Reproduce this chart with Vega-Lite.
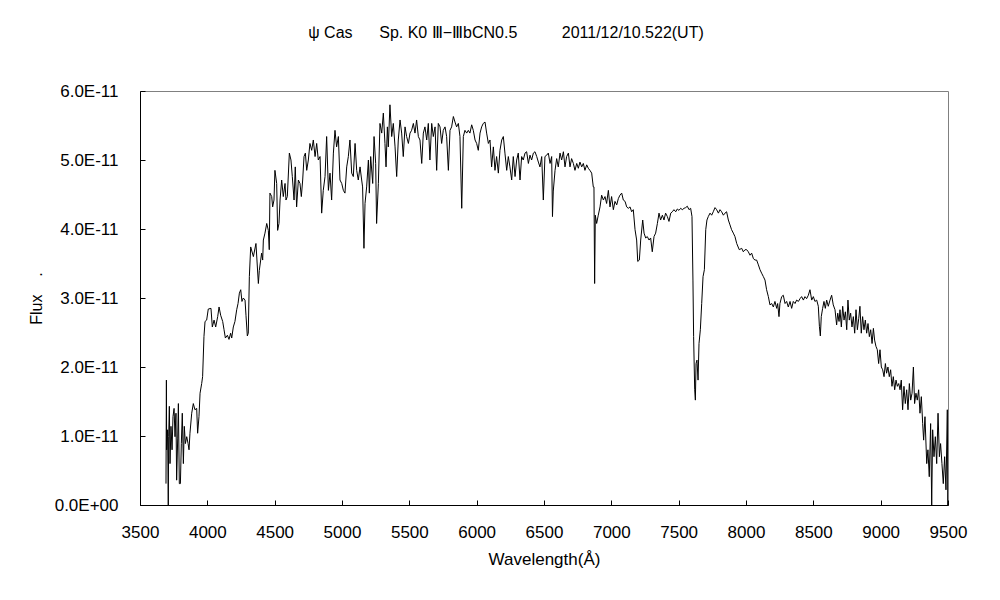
{
"$schema": "https://vega.github.io/schema/vega-lite/v6.json",
"width": 808, "height": 414,
"autosize": {"type": "none"},
"padding": {"left": 140, "top": 91, "right": 52, "bottom": 95},
"background": "white",
"title": {"text": "ψ Cas\u00a0\u00a0\u00a0\u00a0\u00a0\u00a0Sp. K0\u00a0Ⅲ−ⅢbCN0.5\u00a0\u00a0\u00a0\u00a0\u00a0\u00a0\u00a0\u00a0\u00a0\u00a02011/12/10.522(UT)", "fontSize": 16, "font": "Liberation Sans", "fontWeight": "normal", "color": "black", "anchor": "middle", "dx": -38, "offset": 41},
"data": {"values": [
{"wavelength":3693,"flux":0.31},{"wavelength":3696,"flux":1.81},{"wavelength":3698,"flux":0.80},{"wavelength":3705,"flux":1.09},{"wavelength":3710,"flux":0.0},{"wavelength":3713,"flux":0.99},{"wavelength":3718,"flux":1.43},{"wavelength":3723,"flux":0.60},{"wavelength":3730,"flux":1.14},{"wavelength":3738,"flux":0.80},{"wavelength":3745,"flux":1.28},{"wavelength":3753,"flux":1.40},{"wavelength":3760,"flux":0.99},{"wavelength":3767,"flux":1.33},{"wavelength":3772,"flux":0.36},{"wavelength":3780,"flux":0.97},{"wavelength":3785,"flux":1.47},{"wavelength":3792,"flux":0.31},{"wavelength":3800,"flux":0.31},{"wavelength":3807,"flux":0.89},{"wavelength":3814,"flux":1.33},{"wavelength":3822,"flux":0.60},{"wavelength":3829,"flux":1.14},{"wavelength":3837,"flux":0.89},{"wavelength":3847,"flux":0.99},{"wavelength":3857,"flux":0.89},{"wavelength":3864,"flux":0.80},{"wavelength":3871,"flux":1.04},{"wavelength":3884,"flux":1.33},{"wavelength":3896,"flux":1.47},{"wavelength":3908,"flux":1.38},{"wavelength":3921,"flux":1.40},{"wavelength":3928,"flux":1.04},{"wavelength":3938,"flux":1.28},{"wavelength":3946,"flux":1.62},{"wavelength":3958,"flux":1.76},{"wavelength":3965,"flux":1.86},{"wavelength":3975,"flux":2.44},{"wavelength":3983,"flux":2.66},{"wavelength":3995,"flux":2.68},{"wavelength":4007,"flux":2.84},{"wavelength":4027,"flux":2.85},{"wavelength":4037,"flux":2.58},{"wavelength":4050,"flux":2.68},{"wavelength":4062,"flux":2.58},{"wavelength":4077,"flux":2.73},{"wavelength":4087,"flux":2.87},{"wavelength":4099,"flux":2.75},{"wavelength":4114,"flux":2.66},{"wavelength":4124,"flux":2.54},{"wavelength":4134,"flux":2.42},{"wavelength":4149,"flux":2.46},{"wavelength":4161,"flux":2.40},{"wavelength":4173,"flux":2.49},{"wavelength":4181,"flux":2.42},{"wavelength":4193,"flux":2.58},{"wavelength":4205,"flux":2.66},{"wavelength":4218,"flux":2.83},{"wavelength":4228,"flux":2.92},{"wavelength":4238,"flux":3.07},{"wavelength":4248,"flux":3.12},{"wavelength":4257,"flux":2.95},{"wavelength":4267,"flux":3.00},{"wavelength":4280,"flux":2.97},{"wavelength":4287,"flux":2.75},{"wavelength":4297,"flux":2.45},{"wavelength":4304,"flux":2.49},{"wavelength":4312,"flux":3.31},
{"wavelength":4322,"flux":3.74},{"wavelength":4342,"flux":3.60},{"wavelength":4361,"flux":3.79},{"wavelength":4379,"flux":3.21},{"wavelength":4386,"flux":3.40},{"wavelength":4403,"flux":3.65},{"wavelength":4411,"flux":3.55},{"wavelength":4416,"flux":3.84},{"wavelength":4428,"flux":3.94},{"wavelength":4441,"flux":4.08},{"wavelength":4453,"flux":3.98},{"wavelength":4460,"flux":3.70},{"wavelength":4465,"flux":4.52},{"wavelength":4478,"flux":4.47},{"wavelength":4485,"flux":4.32},{"wavelength":4495,"flux":4.42},{"wavelength":4502,"flux":4.85},{"wavelength":4515,"flux":4.66},{"wavelength":4522,"flux":3.98},{"wavelength":4532,"flux":4.08},{"wavelength":4540,"flux":4.42},{"wavelength":4552,"flux":4.71},{"wavelength":4564,"flux":4.47},{"wavelength":4577,"flux":4.66},{"wavelength":4584,"flux":4.42},{"wavelength":4594,"flux":4.47},{"wavelength":4609,"flux":5.10},{"wavelength":4621,"flux":5.00},{"wavelength":4631,"flux":4.76},{"wavelength":4644,"flux":4.42},{"wavelength":4653,"flux":4.90},{"wavelength":4663,"flux":4.32},{"wavelength":4676,"flux":4.71},{"wavelength":4688,"flux":4.66},{"wavelength":4698,"flux":4.47},{"wavelength":4708,"flux":4.71},{"wavelength":4718,"flux":5.05},{"wavelength":4728,"flux":5.10},{"wavelength":4738,"flux":4.85},{"wavelength":4750,"flux":5.00},{"wavelength":4762,"flux":5.24},{"wavelength":4775,"flux":5.14},{"wavelength":4787,"flux":5.29},{"wavelength":4800,"flux":5.05},{"wavelength":4812,"flux":5.24},{"wavelength":4824,"flux":5.00},{"wavelength":4837,"flux":5.05},{"wavelength":4849,"flux":4.23},{"wavelength":4861,"flux":4.56},{"wavelength":4874,"flux":4.76},{"wavelength":4886,"flux":5.34},{"wavelength":4899,"flux":4.56},{"wavelength":4911,"flux":4.81},{"wavelength":4923,"flux":4.42},{"wavelength":4936,"flux":5.10},{"wavelength":4948,"flux":5.43},{"wavelength":4960,"flux":5.19},{"wavelength":4973,"flux":5.34},{"wavelength":4985,"flux":4.71},{"wavelength":4998,"flux":4.66},{"wavelength":5010,"flux":4.56},{"wavelength":5022,"flux":4.52},{"wavelength":5035,"flux":4.90},{"wavelength":5047,"flux":5.05},{"wavelength":5059,"flux":5.29},{"wavelength":5072,"flux":4.81},{"wavelength":5084,"flux":4.76},{"wavelength":5097,"flux":5.24},{"wavelength":5109,"flux":4.85},{"wavelength":5121,"flux":4.71},{"wavelength":5134,"flux":4.90},{"wavelength":5146,"flux":4.71},{"wavelength":5153,"flux":4.61},{"wavelength":5163,"flux":3.72},{"wavelength":5171,"flux":4.37},{"wavelength":5183,"flux":4.61},{"wavelength":5196,"flux":5.00},{"wavelength":5203,"flux":4.52},{"wavelength":5213,"flux":5.05},{"wavelength":5228,"flux":4.66},{"wavelength":5238,"flux":5.34},{"wavelength":5250,"flux":4.95},{"wavelength":5257,"flux":4.08},{"wavelength":5270,"flux":4.66},{"wavelength":5282,"flux":5.53},{"wavelength":5295,"flux":5.39},{"wavelength":5307,"flux":5.68},{"wavelength":5319,"flux":5.24},{"wavelength":5327,"flux":4.90},{"wavelength":5337,"flux":5.48},{"wavelength":5344,"flux":5.19},{"wavelength":5356,"flux":5.80},{"wavelength":5369,"flux":5.34},{"wavelength":5381,"flux":5.53},{"wavelength":5394,"flux":5.19},{"wavelength":5406,"flux":4.76},{"wavelength":5418,"flux":5.29},{"wavelength":5431,"flux":5.58},{"wavelength":5443,"flux":5.39},{"wavelength":5455,"flux":5.05},{"wavelength":5468,"flux":5.48},{"wavelength":5480,"flux":5.34},{"wavelength":5493,"flux":5.24},{"wavelength":5505,"flux":5.39},{"wavelength":5517,"flux":5.43},{"wavelength":5530,"flux":5.53},{"wavelength":5542,"flux":5.39},{"wavelength":5554,"flux":5.58},{"wavelength":5567,"flux":5.34},{"wavelength":5579,"flux":5.29},{"wavelength":5592,"flux":4.95},{"wavelength":5604,"flux":5.39},{"wavelength":5616,"flux":5.48},{"wavelength":5629,"flux":5.29},{"wavelength":5641,"flux":5.53},{"wavelength":5653,"flux":5.00},{"wavelength":5666,"flux":5.53},{"wavelength":5678,"flux":5.34},{"wavelength":5691,"flux":5.48},{"wavelength":5703,"flux":4.85},{"wavelength":5715,"flux":5.53},{"wavelength":5728,"flux":5.48},{"wavelength":5740,"flux":5.24},{"wavelength":5752,"flux":5.43},{"wavelength":5765,"flux":5.48},{"wavelength":5777,"flux":5.34},{"wavelength":5790,"flux":4.85},{"wavelength":5802,"flux":5.43},{"wavelength":5814,"flux":5.48},{"wavelength":5827,"flux":5.63},{"wavelength":5839,"flux":5.55},{"wavelength":5851,"flux":5.48},{"wavelength":5864,"flux":5.53},{"wavelength":5876,"flux":5.34},{"wavelength":5889,"flux":4.30},{"wavelength":5901,"flux":5.34},{"wavelength":5913,"flux":5.43},{"wavelength":5926,"flux":5.39},{"wavelength":5938,"flux":5.43},{"wavelength":5950,"flux":5.39},
{"wavelength":5963,"flux":5.51},{"wavelength":5975,"flux":5.43},{"wavelength":5988,"flux":5.29},{"wavelength":6000,"flux":5.24},{"wavelength":6012,"flux":5.14},{"wavelength":6025,"flux":5.39},{"wavelength":6037,"flux":5.48},{"wavelength":6049,"flux":5.53},{"wavelength":6062,"flux":5.55},{"wavelength":6074,"flux":5.39},{"wavelength":6087,"flux":5.24},{"wavelength":6099,"flux":5.29},{"wavelength":6111,"flux":4.90},{"wavelength":6124,"flux":5.19},{"wavelength":6136,"flux":4.85},{"wavelength":6148,"flux":5.05},{"wavelength":6161,"flux":4.81},{"wavelength":6173,"flux":5.14},{"wavelength":6186,"flux":5.29},{"wavelength":6198,"flux":5.34},{"wavelength":6210,"flux":5.10},{"wavelength":6223,"flux":4.85},{"wavelength":6235,"flux":5.05},{"wavelength":6247,"flux":4.90},{"wavelength":6260,"flux":4.71},{"wavelength":6272,"flux":5.05},{"wavelength":6285,"flux":4.76},{"wavelength":6297,"flux":5.00},{"wavelength":6309,"flux":5.10},{"wavelength":6322,"flux":4.71},{"wavelength":6334,"flux":5.05},{"wavelength":6346,"flux":5.00},{"wavelength":6359,"flux":5.10},{"wavelength":6371,"flux":5.12},{"wavelength":6384,"flux":4.95},{"wavelength":6396,"flux":5.07},{"wavelength":6408,"flux":5.00},{"wavelength":6421,"flux":5.10},{"wavelength":6433,"flux":5.12},{"wavelength":6446,"flux":5.05},{"wavelength":6458,"flux":4.97},{"wavelength":6470,"flux":4.90},{"wavelength":6483,"flux":5.05},{"wavelength":6495,"flux":4.42},{"wavelength":6507,"flux":5.05},{"wavelength":6520,"flux":5.07},{"wavelength":6532,"flux":5.10},{"wavelength":6545,"flux":4.95},{"wavelength":6557,"flux":5.05},{"wavelength":6563,"flux":4.18},{"wavelength":6569,"flux":4.55},{"wavelength":6582,"flux":4.85},{"wavelength":6594,"flux":5.02},{"wavelength":6606,"flux":4.90},{"wavelength":6619,"flux":5.10},{"wavelength":6631,"flux":5.00},{"wavelength":6644,"flux":5.12},{"wavelength":6656,"flux":4.90},{"wavelength":6668,"flux":5.05},{"wavelength":6681,"flux":5.10},{"wavelength":6693,"flux":4.90},{"wavelength":6705,"flux":5.02},{"wavelength":6718,"flux":4.95},{"wavelength":6730,"flux":4.85},{"wavelength":6743,"flux":4.95},{"wavelength":6755,"flux":4.88},{"wavelength":6767,"flux":4.97},{"wavelength":6780,"flux":4.90},{"wavelength":6792,"flux":4.95},{"wavelength":6804,"flux":4.85},{"wavelength":6817,"flux":4.93},{"wavelength":6829,"flux":4.88},{"wavelength":6841,"flux":4.85},{"wavelength":6854,"flux":4.81},{"wavelength":6866,"flux":4.61},
{"wavelength":6871,"flux":4.61},{"wavelength":6876,"flux":3.21},{"wavelength":6881,"flux":4.20},{"wavelength":6891,"flux":4.08},{"wavelength":6903,"flux":4.20},{"wavelength":6916,"flux":4.32},{"wavelength":6928,"flux":4.49},{"wavelength":6941,"flux":4.42},{"wavelength":6953,"flux":4.47},{"wavelength":6965,"flux":4.37},{"wavelength":6978,"flux":4.56},{"wavelength":6990,"flux":4.32},{"wavelength":7002,"flux":4.47},{"wavelength":7015,"flux":4.28},{"wavelength":7027,"flux":4.40},{"wavelength":7040,"flux":4.35},{"wavelength":7052,"flux":4.44},{"wavelength":7064,"flux":4.49},{"wavelength":7077,"flux":4.52},{"wavelength":7089,"flux":4.42},{"wavelength":7102,"flux":4.40},{"wavelength":7114,"flux":4.32},{"wavelength":7126,"flux":4.30},{"wavelength":7139,"flux":4.32},{"wavelength":7151,"flux":4.25},{"wavelength":7163,"flux":4.28},{"wavelength":7176,"flux":3.99},{"wavelength":7188,"flux":3.84},{"wavelength":7196,"flux":3.53},{"wavelength":7208,"flux":3.55},{"wavelength":7218,"flux":3.84},{"wavelength":7233,"flux":4.13},{"wavelength":7243,"flux":3.94},{"wavelength":7255,"flux":3.87},{"wavelength":7267,"flux":3.89},{"wavelength":7280,"flux":3.84},{"wavelength":7292,"flux":3.87},{"wavelength":7304,"flux":3.67},{"wavelength":7317,"flux":3.89},{"wavelength":7329,"flux":3.94},{"wavelength":7342,"flux":4.08},{"wavelength":7354,"flux":4.23},{"wavelength":7366,"flux":4.13},{"wavelength":7379,"flux":4.20},{"wavelength":7391,"flux":4.13},{"wavelength":7403,"flux":4.23},{"wavelength":7416,"flux":4.18},{"wavelength":7428,"flux":4.11},{"wavelength":7441,"flux":4.23},{"wavelength":7453,"flux":4.25},{"wavelength":7465,"flux":4.28},{"wavelength":7478,"flux":4.25},{"wavelength":7490,"flux":4.29},{"wavelength":7502,"flux":4.27},{"wavelength":7515,"flux":4.30},{"wavelength":7527,"flux":4.28},{"wavelength":7540,"flux":4.30},{"wavelength":7552,"flux":4.31},{"wavelength":7564,"flux":4.33},{"wavelength":7577,"flux":4.28},{"wavelength":7589,"flux":4.30},{"wavelength":7599,"flux":4.18},{"wavelength":7606,"flux":3.26},{"wavelength":7611,"flux":2.44},{"wavelength":7619,"flux":1.67},{"wavelength":7624,"flux":1.52},{"wavelength":7629,"flux":2.05},{"wavelength":7636,"flux":2.10},{"wavelength":7644,"flux":1.81},{"wavelength":7651,"flux":2.34},{"wavelength":7661,"flux":2.54},{"wavelength":7671,"flux":2.92},{"wavelength":7681,"flux":3.31},{"wavelength":7691,"flux":3.41},{"wavelength":7701,"flux":3.99},{"wavelength":7710,"flux":4.13},{"wavelength":7720,"flux":4.18},{"wavelength":7733,"flux":4.23},{"wavelength":7745,"flux":4.20},{"wavelength":7757,"flux":4.25},{"wavelength":7770,"flux":4.31},{"wavelength":7782,"flux":4.28},{"wavelength":7795,"flux":4.23},{"wavelength":7807,"flux":4.28},{"wavelength":7819,"flux":4.25},{"wavelength":7832,"flux":4.20},{"wavelength":7844,"flux":4.23},{"wavelength":7856,"flux":4.25},{"wavelength":7869,"flux":4.13},{"wavelength":7881,"flux":4.06},{"wavelength":7893,"flux":3.99},{"wavelength":7906,"flux":3.94},{"wavelength":7918,"flux":3.89},{"wavelength":7931,"flux":3.79},{"wavelength":7950,"flux":3.70},
{"wavelength":7968,"flux":3.72},{"wavelength":7980,"flux":3.67},{"wavelength":7993,"flux":3.70},{"wavelength":8005,"flux":3.70},{"wavelength":8017,"flux":3.67},{"wavelength":8030,"flux":3.62},{"wavelength":8042,"flux":3.65},{"wavelength":8055,"flux":3.57},{"wavelength":8067,"flux":3.55},{"wavelength":8079,"flux":3.55},{"wavelength":8092,"flux":3.48},{"wavelength":8104,"flux":3.41},{"wavelength":8116,"flux":3.36},{"wavelength":8129,"flux":3.31},{"wavelength":8141,"flux":3.26},{"wavelength":8153,"flux":3.12},{"wavelength":8166,"flux":3.02},{"wavelength":8178,"flux":2.90},{"wavelength":8191,"flux":2.92},{"wavelength":8203,"flux":2.87},{"wavelength":8215,"flux":2.95},{"wavelength":8228,"flux":2.85},{"wavelength":8235,"flux":2.92},{"wavelength":8245,"flux":2.73},{"wavelength":8252,"flux":2.92},{"wavelength":8265,"flux":3.02},{"wavelength":8277,"flux":3.04},{"wavelength":8290,"flux":2.92},{"wavelength":8302,"flux":2.95},{"wavelength":8314,"flux":2.87},{"wavelength":8327,"flux":2.95},{"wavelength":8339,"flux":2.85},{"wavelength":8351,"flux":2.95},{"wavelength":8364,"flux":2.92},{"wavelength":8376,"flux":2.97},
{"wavelength":8389,"flux":2.95},{"wavelength":8401,"flux":2.99},{"wavelength":8413,"flux":3.02},{"wavelength":8426,"flux":2.97},{"wavelength":8438,"flux":3.02},{"wavelength":8450,"flux":2.99},{"wavelength":8463,"flux":3.04},{"wavelength":8475,"flux":3.12},{"wavelength":8488,"flux":2.97},{"wavelength":8500,"flux":3.02},{"wavelength":8512,"flux":2.95},{"wavelength":8525,"flux":2.97},{"wavelength":8537,"flux":2.88},{"wavelength":8545,"flux":2.59},{"wavelength":8552,"flux":2.45},{"wavelength":8559,"flux":2.73},{"wavelength":8569,"flux":2.85},{"wavelength":8579,"flux":2.95},{"wavelength":8589,"flux":2.85},{"wavelength":8599,"flux":2.97},{"wavelength":8611,"flux":2.88},{"wavelength":8624,"flux":2.97},{"wavelength":8636,"flux":3.04},{"wavelength":8648,"flux":2.90},{"wavelength":8661,"flux":2.83},{"wavelength":8673,"flux":2.61},{"wavelength":8681,"flux":2.78},{"wavelength":8691,"flux":2.66},{"wavelength":8698,"flux":2.83},{"wavelength":8708,"flux":2.58},{"wavelength":8718,"flux":2.88},{"wavelength":8728,"flux":2.68},{"wavelength":8738,"flux":2.80},{"wavelength":8748,"flux":2.54},{"wavelength":8757,"flux":2.97},{"wavelength":8767,"flux":2.68},{"wavelength":8777,"flux":2.78},{"wavelength":8787,"flux":2.58},{"wavelength":8797,"flux":2.73},{"wavelength":8807,"flux":2.49},{"wavelength":8817,"flux":2.83},{"wavelength":8827,"flux":2.54},{"wavelength":8837,"flux":2.70},{"wavelength":8846,"flux":2.88},{"wavelength":8856,"flux":2.49},{"wavelength":8866,"flux":2.73},{"wavelength":8876,"flux":2.54},{"wavelength":8886,"flux":2.68},{"wavelength":8896,"flux":2.49},{"wavelength":8906,"flux":2.63},{"wavelength":8916,"flux":2.44},{"wavelength":8926,"flux":2.54},{"wavelength":8936,"flux":2.34},{"wavelength":8946,"flux":2.56},{"wavelength":8955,"flux":2.39},{"wavelength":8965,"flux":2.30},{"wavelength":8975,"flux":2.25},{"wavelength":8985,"flux":2.05},{"wavelength":8995,"flux":2.25},{"wavelength":9005,"flux":2.00},{"wavelength":9015,"flux":1.96},{"wavelength":9025,"flux":1.86},{"wavelength":9035,"flux":2.05},{"wavelength":9044,"flux":1.91},{"wavelength":9054,"flux":2.00},{"wavelength":9064,"flux":1.86},{"wavelength":9074,"flux":1.96},{"wavelength":9084,"flux":1.72},{"wavelength":9094,"flux":1.86},{"wavelength":9104,"flux":1.67},{"wavelength":9114,"flux":1.81},{"wavelength":9124,"flux":1.72},{"wavelength":9134,"flux":1.76},{"wavelength":9144,"flux":1.67},{"wavelength":9153,"flux":1.81},{"wavelength":9163,"flux":1.38},{"wavelength":9173,"flux":1.72},{"wavelength":9183,"flux":1.47},{"wavelength":9193,"flux":1.67},{"wavelength":9203,"flux":1.38},{"wavelength":9213,"flux":1.76},{"wavelength":9223,"flux":1.52},{"wavelength":9233,"flux":1.62},{"wavelength":9243,"flux":2.00},{"wavelength":9252,"flux":1.47},{"wavelength":9262,"flux":1.62},{"wavelength":9272,"flux":1.52},{"wavelength":9282,"flux":1.67},{"wavelength":9292,"flux":1.33},{"wavelength":9302,"flux":1.57},{"wavelength":9312,"flux":1.18},{"wavelength":9319,"flux":0.94},{"wavelength":9329,"flux":1.28},{"wavelength":9342,"flux":0.60},{"wavelength":9351,"flux":0.80},{"wavelength":9361,"flux":0.41},{"wavelength":9371,"flux":1.18},{"wavelength":9379,"flux":0.0},{"wavelength":9386,"flux":1.09},{"wavelength":9396,"flux":0.70},{"wavelength":9406,"flux":0.99},{"wavelength":9416,"flux":0.60},{"wavelength":9426,"flux":1.33},{"wavelength":9436,"flux":0.70},{"wavelength":9445,"flux":0.89},{"wavelength":9455,"flux":0.60},{"wavelength":9465,"flux":0.31},{"wavelength":9475,"flux":0.70},{"wavelength":9485,"flux":0.22},{"wavelength":9495,"flux":1.38},{"wavelength":9499,"flux":0.0},{"wavelength":9504,"flux":0.70}
]},
"mark": {"type": "line", "color": "black", "strokeWidth": 1, "clip": true},
"encoding": {
  "x": {"field": "wavelength", "type": "quantitative",
    "scale": {"domain": [3500, 9500], "nice": false, "zero": false},
    "axis": {"values": [3500,4000,4500,5000,5500,6000,6500,7000,7500,8000,8500,9000,9500], "format": "d", "labelFlush": false, "labelOverlap": false, "tickSize": -5, "labelPadding": 24, "title": "Wavelength(Å)", "titleFontSize": 17, "titlePadding": 11}},
  "y": {"field": "flux", "type": "quantitative",
    "scale": {"domain": [0, 6], "nice": false, "zero": true},
    "axis": {"values": [0,1,2,3,4,5,6], "labelExpr": "datum.value == 0 ? '0.0E+00' : format(datum.value, '.1f') + 'E-11'", "labelOverlap": false, "tickSize": -5, "labelPadding": 27, "title": "Flux\u00a0\u00a0\u00a0\u00a0.", "titlePadding": 10}}
},
"config": {
  "view": {"stroke": "#808080", "strokeWidth": 1},
  "font": "Liberation Sans",
  "axis": {"grid": false, "domainColor": "black", "tickColor": "black", "labelColor": "black", "labelFontSize": 17, "labelFont": "Liberation Sans", "titleFont": "Liberation Sans", "titleFontSize": 16, "titleFontWeight": "normal", "titleColor": "black"}
}
}
